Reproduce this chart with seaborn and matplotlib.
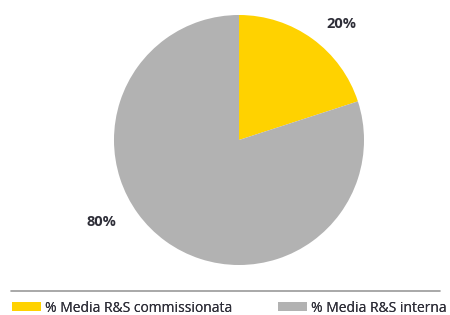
import matplotlib
matplotlib.use("Agg")
import matplotlib.pyplot as plt
import seaborn as sns
from matplotlib.lines import Line2D
from matplotlib.patches import Patch

sns.set_theme(style="white")
plt.rcParams['font.family'] = ['Open Sans', 'DejaVu Sans']

categories = ['% Media R&S commissionata', '% Media R&S interna']
values = [20, 80]
labels = ['20%', '80%']
colors = ['#FFD200', '#B2B2B2']

fig = plt.figure(figsize=(4.5, 3.15), dpi=100)
ax = fig.add_axes([0.2533, 0.1587, 0.5556, 0.7937])
ax.pie(values, colors=colors, startangle=90, counterclock=False,
       wedgeprops=dict(linewidth=0), radius=1)
ax.set_xlim(-1, 1)
ax.set_ylim(-1, 1)
ax.set_aspect('equal')
ax.axis('off')

# percent labels
ax.text(0.816, 0.928, labels[0], ha='center', va='center', fontsize=10.5,
        fontweight='bold', color='#2e2e38')
ax.text(-1.104, -0.656, labels[1], ha='center', va='center', fontsize=10.5,
        fontweight='bold', color='#2e2e38')

# separator line above legend
fig.add_artist(Line2D([11 / 450, 440 / 450], [(315 - 290.7) / 315] * 2,
                      color='#9a9a9a', lw=1.2))

# two legend entries, each placed at its own left edge
for i, x0 in enumerate([12 / 450, 278 / 450]):
    leg = fig.legend([Patch(facecolor=colors[i], edgecolor='none')], [categories[i]],
                     loc='center left', bbox_to_anchor=(x0, (315 - 308) / 315),
                     frameon=False, fontsize=10, handlelength=2.1, handleheight=0.58,
                     handletextpad=0.3, borderpad=0, borderaxespad=0,
                     labelcolor='#2e2e38')
    fig.add_artist(leg)

fig.savefig('out.png', dpi=100)
